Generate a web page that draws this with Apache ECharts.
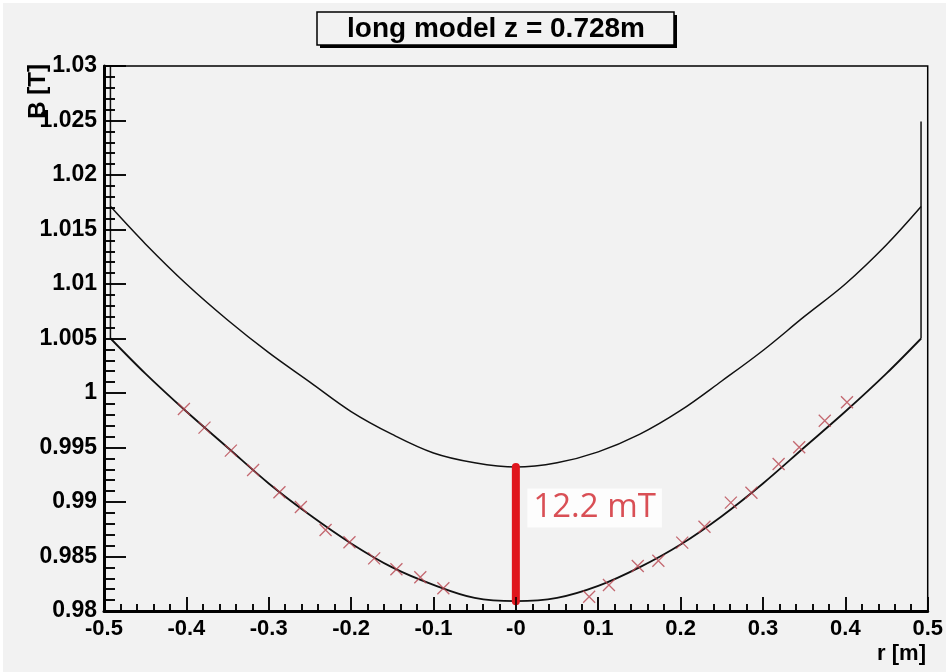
<!DOCTYPE html>
<html><head><meta charset="utf-8">
<script src="https://cdn.jsdelivr.net/npm/echarts@6/dist/echarts.min.js"></script>
<style>html,body{margin:0;padding:0;background:#fff}#c{width:946px;height:672px}</style>
</head><body><div id="c"></div>
<script>
const titleText = 'long model z = 0.728m';
const xTitle = 'r [m]';
const yTitle = 'B [T]';
const xTickLabels = ['-0.5','-0.4','-0.3','-0.2','-0.1','-0','0.1','0.2','0.3','0.4','0.5'];
const yTickLabels = ['0.98','0.985','0.99','0.995','1','1.005','1.01','1.015','1.02','1.025','1.03'];

const curveR = [-0.492,-0.45,-0.4,-0.35,-0.3,-0.25,-0.2,-0.15,-0.1,-0.05,0,0.05,0.1,0.15,0.2,0.25,0.3,0.35,0.4,0.45,0.492];
const upperB = [1.0171,1.0137,1.0100,1.0067,1.0037,1.0010,0.9983,0.9962,0.9945,0.9936,0.9932,0.9936,0.9946,0.9962,0.9984,1.0011,1.0039,1.0070,1.0100,1.0136,1.0171];
const lowerB = [1.0050,1.0018,0.9983,0.9950,0.9917,0.9888,0.9862,0.9840,0.9824,0.9812,0.9809,0.9812,0.9823,0.9840,0.9861,0.9887,0.9917,0.9950,0.9983,1.0018,1.0050];

const crossR = [-0.403,-0.378,-0.346,-0.319,-0.287,-0.261,-0.231,-0.202,-0.172,-0.145,-0.116,-0.088,
                0.089,0.113,0.148,0.173,0.202,0.229,0.261,0.286,0.319,0.344,0.375,0.402];
const crossB = [0.99853,0.99682,0.99471,0.99294,0.99089,0.98954,0.98743,0.98630,0.98483,0.98383,0.98309,0.98208,
                0.98131,0.98239,0.98413,0.98461,0.98627,0.98773,0.98994,0.99085,0.99349,0.99502,0.99746,0.99915];

const edgeLeftR = [-0.4922,-0.4922];
const edgeLeftB = [1.0050,1.0300];
const edgeRightR = [0.4919,0.4919];
const edgeRightB = [1.0050,1.0249];

const gapR = [0,0];
const gapB = [0.9809,0.9932];
const gapLabel = '12.2 mT';
const gapLabelR = [0];
const gapLabelB = [0.98945];

const xMin = -0.5, xMax = 0.5, xStep = 0.1, xMinorSplit = 5;
const yMin = 0.98, yMax = 1.03, yStep = 0.005, yMinorSplit = 5;

const zip = (a,b) => a.map((v,i)=>[v,b[i]]);
const FONT = 'Liberation Sans';

const W = 946, H = 672;
const G = {left:104, right:18, top:66, bottom:61};
const pxPerX = (W - G.left - G.right) / (xMax - xMin);
const pxPerY = (H - G.top - G.bottom) / (yMax - yMin);
const TICK = {xMajor:14, xMinor:7, yMajor:22, yMinor:11};

// inward tick marks as markLine segments, built from the axis scale
const tickLines = [];
{
  const nx = Math.round((xMax-xMin)/xStep)*xMinorSplit;
  for (let i=0;i<=nx;i++){
    const v = xMin + i*xStep/xMinorSplit;
    const len = (i%xMinorSplit===0 ? TICK.xMajor : TICK.xMinor) / pxPerY;
    tickLines.push([{coord:[v, yMin]},{coord:[v, yMin+len]}]);
  }
  const ny = Math.round((yMax-yMin)/yStep)*yMinorSplit;
  for (let i=0;i<=ny;i++){
    const v = yMin + i*yStep/yMinorSplit;
    const len = (i%yMinorSplit===0 ? TICK.yMajor : TICK.yMinor) / pxPerX;
    tickLines.push([{coord:[xMin, v]},{coord:[xMin+len, v]}]);
  }
}

const chart = echarts.init(document.getElementById('c'));
chart.setOption({
  backgroundColor:'#f2f2f2',
  animation:false,
  grid:{left:G.left,right:G.right,top:G.top,bottom:G.bottom,show:true,borderColor:'#000',borderWidth:1.5,backgroundColor:'transparent'},
  xAxis:{
    type:'value', min:xMin, max:xMax, interval:xStep, z:10,
    axisLine:{show:true,onZero:false,lineStyle:{color:'#000',width:3}},
    axisTick:{show:true,inside:true,length:TICK.xMajor,lineStyle:{color:'#000',width:1.5}},
    minorTick:{show:true,splitNumber:xMinorSplit,length:TICK.xMinor,lineStyle:{color:'#000',width:1.5}},
    splitLine:{show:false},
    axisLabel:{margin:7,color:'#000',fontFamily:FONT,fontWeight:'bold',fontSize:22,
      formatter:v=>{const t = xTickLabels[Math.round((v-xMin)/xStep)]; return t===undefined?'':t;}}
  },
  yAxis:{
    type:'value', min:yMin, max:yMax, interval:yStep, z:10,
    axisLine:{show:true,onZero:false,lineStyle:{color:'#000',width:3}},
    axisTick:{show:true,inside:true,length:TICK.yMajor,lineStyle:{color:'#000',width:1.5}},
    minorTick:{show:true,splitNumber:yMinorSplit,length:TICK.yMinor,lineStyle:{color:'#000',width:1.5}},
    splitLine:{show:false},
    axisLabel:{margin:7,color:'#000',fontFamily:FONT,fontWeight:'bold',fontSize:23,
      formatter:v=>{const t = yTickLabels[Math.round((v-yMin)/yStep)]; return t===undefined?'':t;}}
  },
  series:[
    {type:'line',data:zip(curveR,upperB),showSymbol:false,smooth:0.35,
     lineStyle:{color:'#111',width:1.5},z:3},
    {type:'line',data:zip(curveR,lowerB),showSymbol:false,smooth:0.35,
     lineStyle:{color:'#111',width:1.8},z:3,
     markLine:{silent:true,symbol:['none','none'],animation:false,label:{show:false},
       lineStyle:{color:'#000',width:1.5,type:'solid'},emphasis:{disabled:true},data:tickLines}},
    {type:'line',data:zip(edgeLeftR,edgeLeftB),showSymbol:false,lineStyle:{color:'#111',width:1.5},z:3},
    {type:'line',data:zip(edgeRightR,edgeRightB),showSymbol:false,lineStyle:{color:'#111',width:1.5},z:3},
    {type:'scatter',data:zip(crossR,crossB),symbol:'path://M0 0L10 10M10 0L0 10',symbolSize:12,
     itemStyle:{color:'rgba(0,0,0,0)',borderColor:'#b8454f',borderWidth:1.3},z:4},
    {type:'line',data:zip(gapR,gapB),showSymbol:false,lineStyle:{color:'#e0161d',width:8,cap:'round'},z:5},
    {type:'scatter',data:zip(gapLabelR,gapLabelB),symbolSize:1,itemStyle:{color:'rgba(0,0,0,0)'},z:6,
     label:{show:true,position:'right',distance:11,formatter:gapLabel,color:'#d0232b',
       fontFamily:'Open Sans',fontSize:33,backgroundColor:'#fff',padding:[4,6,2,6]}}
  ],
  graphic:[
    {type:'rect',shape:{x:0,y:0,width:946,height:3},style:{fill:'#fff'},silent:true},
    {type:'rect',shape:{x:0,y:0,width:3,height:672},style:{fill:'#fff'},silent:true},
    {type:'rect',shape:{x:320,y:15,width:357,height:33},style:{fill:'#000'},silent:true},
    {type:'rect',shape:{x:317,y:12,width:357,height:33},style:{fill:'#f2f2f2',stroke:'#000',lineWidth:1.5},silent:true},
    {type:'text',x:496,y:29,style:{text:titleText,fill:'#000',font:'bold 28px "Liberation Sans"',
      textAlign:'center',textVerticalAlign:'middle'},silent:true},
    {type:'text',x:38,y:64,rotation:Math.PI/2,style:{text:yTitle,fill:'#000',font:'bold 24px "Liberation Sans"',
      textAlign:'right',textVerticalAlign:'middle'},silent:true},
    {type:'text',x:926,y:654,style:{text:xTitle,fill:'#000',font:'bold 22px "Liberation Sans"',
      textAlign:'right',textVerticalAlign:'middle'},silent:true}
  ]
});
</script></body></html>
